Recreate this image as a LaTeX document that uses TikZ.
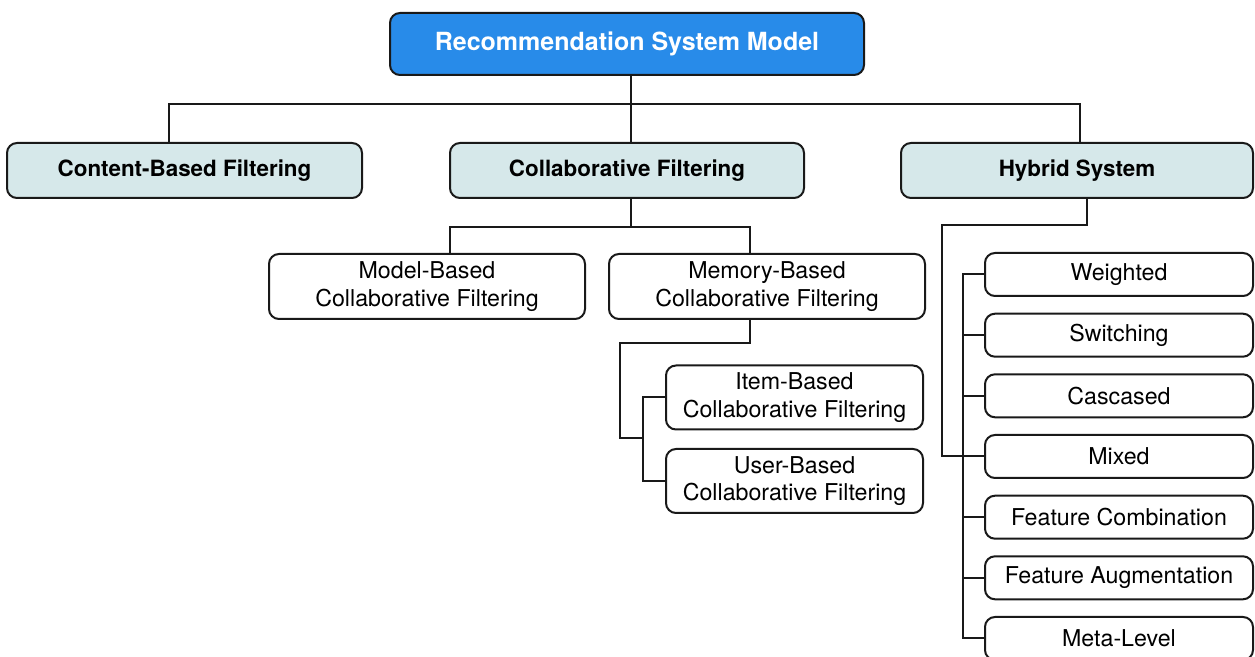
\documentclass[tikz,border=0pt]{standalone}
\usepackage{fontspec}
\setmainfont{TeX Gyre Heros}
\definecolor{rootblue}{RGB}{40,139,233}
\definecolor{lvlone}{RGB}{214,232,234}
\definecolor{edge}{RGB}{25,25,25}
\begin{document}
\begin{tikzpicture}[x=0.5pt,y=-0.5pt,
  box/.style={draw=edge,line width=1pt,rounded corners=5pt,inner sep=0pt,align=center},
  rootbox/.style={box,fill=rootblue,text=white,font=\fontsize{12.5}{15}\selectfont\bfseries,minimum width=237pt,minimum height=31pt},
  lone/.style={box,fill=lvlone,font=\fontsize{11.2}{13.5}\selectfont\bfseries,minimum height=27.5pt},
  ltwo/.style={box,fill=white,font=\fontsize{11.6}{13.7}\selectfont,minimum height=32.5pt},
  leaf/.style={box,fill=white,font=\fontsize{11.6}{13.7}\selectfont,minimum width=134pt,minimum height=21.5pt},
  conn/.style={draw=edge,line width=1pt}]
\useasboundingbox (0,0) rectangle (1255,657);
% nodes
\node[rootbox] (root) at (627,44) {Recommendation System Model};
\node[lone,minimum width=177.5pt] (cb) at (184.5,170.5) {Content-Based Filtering};
\node[lone,minimum width=177pt] (cf) at (627,170.5) {Collaborative Filtering};
\node[lone,minimum width=176pt] (hy) at (1077,170.5) {Hybrid System};
\node[ltwo,minimum width=158pt] (mb) at (427,286.5) {Model-Based\\Collaborative Filtering};
\node[ltwo,minimum width=158pt] (mem) at (767,286.5) {Memory-Based\\Collaborative Filtering};
\node[ltwo,minimum width=128.5pt,minimum height=32pt] (item) at (794.5,397.5) {Item-Based\\Collaborative Filtering};
\node[ltwo,minimum width=128.5pt,minimum height=32pt] (user) at (794.5,481) {User-Based\\Collaborative Filtering};
\node[leaf] (w) at (1119,274.5) {Weighted};
\node[leaf] (sw) at (1119,335.2) {Switching};
\node[leaf] (ca) at (1119,395.8) {Cascased};
\node[leaf] (mx) at (1119,456.5) {Mixed};
\node[leaf] (fc) at (1119,517.2) {Feature Combination};
\node[leaf] (fa) at (1119,577.8) {Feature Augmentation};
\node[leaf] (ml) at (1119,638.5) {Meta-Level};
% junction coordinates
\coordinate (b1) at (0,104);
\coordinate (j2) at (0,227);
\coordinate (roots) at ([xshift=2pt]root.south);
\coordinate (cft) at ([xshift=2pt]cf.north);
\coordinate (cfb) at ([xshift=2pt]cf.south);
\coordinate (cbt) at ([xshift=-7.75pt]cb.north);
\coordinate (hyt) at ([xshift=1.5pt]hy.north);
\coordinate (mbt) at ([xshift=11.5pt]mb.north);
\coordinate (memt) at ([xshift=-8.5pt]mem.north);
\coordinate (memb) at ([xshift=-8.5pt]mem.south);
\coordinate (m1) at (620,343);
\coordinate (m2) at (643,438);
\coordinate (bx) at (643,0);
\coordinate (hyb) at ([xshift=5pt]hy.south);
\coordinate (h1) at (942,225);
\coordinate (hx) at (963,0);
% connectors
\draw[conn] (roots) -- (cft);
\draw[conn] (cbt) |- (hyt |- b1) -- (hyt);
\draw[conn] (cfb) -- (cfb |- j2);
\draw[conn] (mbt) |- (memt |- j2) -- (memt);
\draw[conn] (memb) |- (m1) |- (m2);
\draw[conn] (item.west) -| (bx |- user.west) -- (user.west);
\draw[conn] (hyb) |- (h1) |- (mx.west);
\draw[conn] (w.west) -| (hx |- ml.west) -- (ml.west);
\draw[conn] (sw.west) -- (sw.west -| hx);
\draw[conn] (ca.west) -- (ca.west -| hx);
\draw[conn] (fc.west) -- (fc.west -| hx);
\draw[conn] (fa.west) -- (fa.west -| hx);
\end{tikzpicture}
\end{document}
